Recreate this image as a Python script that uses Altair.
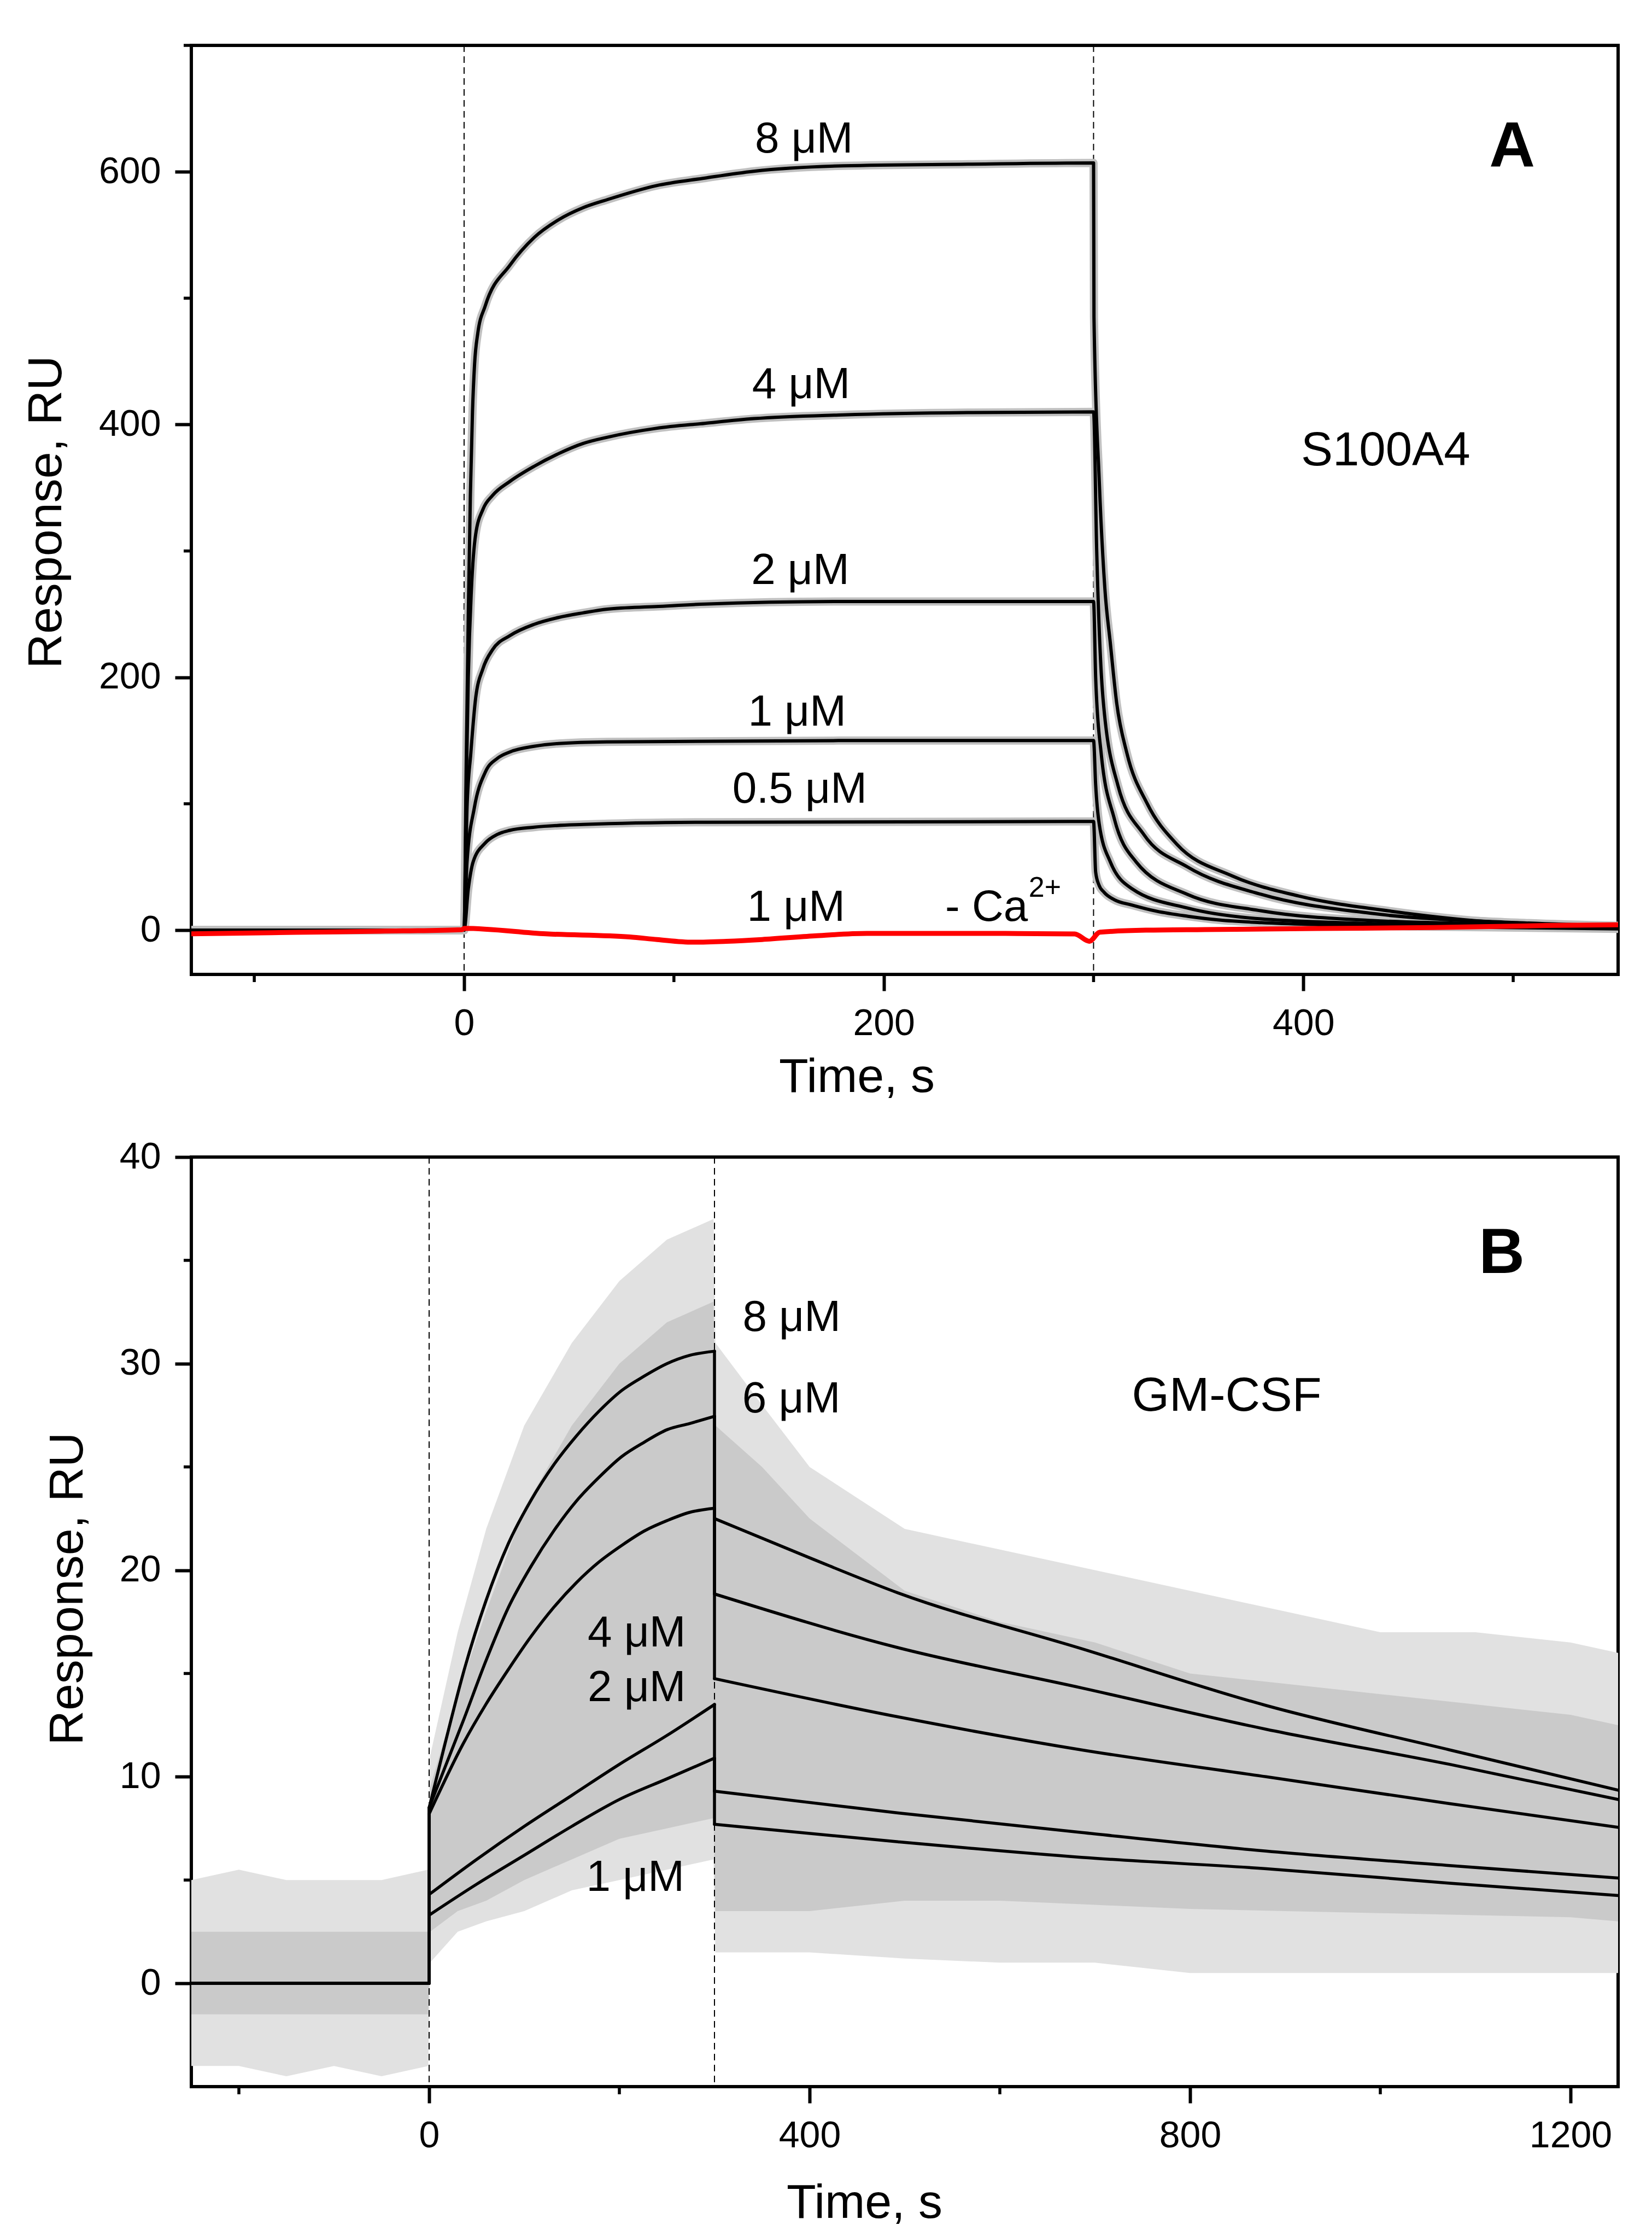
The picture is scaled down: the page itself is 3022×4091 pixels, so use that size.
import altair as alt
import pandas as pd

FONT = "Liberation Sans"

# ---------------- Panel A : S100A4 ----------------
A8_t = [-130, 0, 1, 2, 3, 4, 5, 6.5, 10.1, 21.8, 33.4, 45, 56.6, 68.3, 91.5, 114.7, 138, 180.8, 240, 300,
        300.2, 302.7, 305.4, 308, 311, 315.9, 325.6, 339.7, 366, 397.8, 441.8, 485.9, 550]
A8_v = [0, 0, 130, 250, 345, 410, 448, 472, 494, 526, 548, 562, 571.5, 578, 589, 595, 600.4, 604.7, 606, 607,
        485, 356, 270, 227, 180, 140, 100, 68, 43, 27, 15, 7, 3]

A4_t = [-130, 0, 1, 2, 3.5, 5.5, 9.0, 13.6, 21.8, 33.4, 45, 56.6, 68.3, 91.5, 114.7, 138, 180.8, 240, 300,
        301.5, 304.5, 311.6, 323.9, 344.8, 380, 433, 503, 550]
A4_v = [0, 0, 110, 200, 270, 313, 333, 344, 355, 367, 377, 385, 390, 397, 401, 404.7, 407.7, 409.5, 410,
        300, 183.5, 114.6, 75.8, 50, 28.3, 13.2, 5.9, 3.5]

A2_t = [-130, 0, 1.4, 3.2, 5.5, 9, 13.6, 21.8, 33.4, 45, 56.6, 68.3, 91.5, 114.7, 180.8, 300,
        301, 303.6, 309.8, 320.3, 344.8, 380, 433, 503, 550]
A2_v = [0, 0, 97, 140, 183.5, 207, 222, 233, 242, 247.4, 251, 254, 256, 258, 260, 260,
        200, 140.4, 88.7, 54, 28.3, 15.3, 7.6, 4.6, 3]

A1_t = [-130, 0, 1.4, 4.9, 10.1, 15.9, 21.8, 33.4, 45, 68, 180, 300,
        301, 302.7, 308, 318.5, 344.8, 380, 450, 550]
A1_v = [0, 0, 54, 97, 125, 136, 141, 145.5, 147.7, 149, 150, 150,
        115, 84, 54, 32.6, 17.5, 8.9, 4.5, 2]

A05_t = [-130, 0, 2, 4.3, 10.1, 15.9, 21.8, 33.4, 56.6, 114.7, 300,
         301, 302.5, 305, 310, 318, 330, 345, 360, 380, 450, 550]
A05_v = [0, 0, 32.6, 54, 69, 75.8, 79, 81.5, 83.6, 85.4, 86,
         46, 36, 30, 24, 20, 15, 11, 8, 6, 3, 1]

A_series = ["8 uM", "4 uM", "2 uM", "1 uM", "0.5 uM"]

# red trace: 1 uM without Ca2+
Ared_t = [-130, -80, -40, -1, 0, 39, 79, 92, 109, 125, 142, 167, 192, 225, 258, 291, 298, 303, 325, 353,
          407, 462, 516, 550]
Ared_v = [-2.9, -1.7, -0.8, 0.4, 1.5, -2.9, -5.4, -7.4, -9.5, -8.8, -7.4, -4.5, -2.6, -2.6, -2.6, -3, -8.8,
          -1.6, 0, 0.5, 1.3, 2.1, 3.7, 4.3]

A_lab_text = ["8 μM", "4 μM", "2 μM", "1 μM", "0.5 μM", "1 μM"]
A_lab_t = [162, 160.6, 160.2, 158.7, 159.9, 158.2]
A_lab_v = [615, 421, 274, 162, 101, 7.5]

# ---------------- Panel B : GM-CSF ----------------
B8_t = [-250, 0, 0, 16.7, 35.8, 59.6, 83.4, 107.3, 131, 154.9, 178.7, 202.5, 226.3, 250.1, 273.9, 300,
        300, 400, 493, 686, 880, 1073, 1250]
B8_v = [0, 0, 8.5, 11.6, 15.0, 18.5, 21.3, 23.4, 25.1, 26.5, 27.7, 28.7, 29.4, 30.0, 30.4, 30.6,
        22.5, 20.6, 18.9, 16.2, 13.45, 11.3, 9.35]

B6_t = [-250, 0, 0, 35.8, 59.6, 83.4, 107.3, 131, 154.9, 178.7, 202.5, 226.3, 250.1, 273.9, 300,
        300, 493, 686, 880, 1073, 1250]
B6_v = [0, 0, 8.5, 12.7, 15.6, 18.2, 20.2, 21.9, 23.35, 24.5, 25.5, 26.2, 26.8, 27.1, 27.45,
        18.85, 16.25, 14.3, 12.3, 10.6, 8.9]

B4_t = [-250, 0, 0, 35.8, 59.6, 83.4, 107.3, 131, 154.9, 178.7, 202.5, 226.3, 250.1, 273.9, 300,
        300, 493, 686, 880, 1073, 1250]
B4_v = [0, 0, 8.2, 11.6, 13.5, 15.2, 16.8, 18.2, 19.4, 20.4, 21.2, 21.9, 22.4, 22.8, 23.0,
        14.75, 12.9, 11.3, 10.0, 8.7, 7.55]

B2_t = [-250, 0, 0, 50, 100, 150, 200, 250, 300, 300, 493, 686, 880, 1073, 1250]
B2_v = [0, 0, 4.3, 6.0, 7.6, 9.1, 10.6, 12.0, 13.5, 9.3, 8.25, 7.3, 6.4, 5.7, 5.1]

B1_t = [-250, 0, 0, 50, 100, 150, 200, 250, 300, 300, 493, 686, 880, 1073, 1250]
B1_v = [0, 0, 3.3, 4.8, 6.2, 7.6, 8.9, 9.9, 10.9, 7.7, 6.85, 6.1, 5.55, 4.85, 4.25]

B_series = ["8 uM", "6 uM", "4 uM", "2 uM", "1 uM"]

# envelope of the noisy raw data (grey)
Bn_t = [-250, -200, -150, -100, -50, -1, 1, 30, 60, 100, 150, 200, 250, 299, 301, 350, 400, 500, 600, 700,
        800, 900, 1000, 1100, 1200, 1250]
Bn_outer_lo = [-4, -4, -4.5, -4, -4.5, -4, 1, 2.5, 3.0, 3.5, 4.5, 5.0, 5.5, 6.0, 1.5, 1.5, 1.5, 1.2, 1.0,
               1.0, 0.5, 0.5, 0.5, 0.5, 0.5, 0.5]
Bn_outer_hi = [5, 5.5, 5, 5, 5, 5.5, 11, 17, 22, 27, 31, 34, 36, 37, 31, 28, 25, 22, 21, 20, 19, 18, 17, 17,
               16.5, 16]
Bn_inner_lo = [-1.5, -1.5, -1.5, -1.5, -1.5, -1.5, 2.5, 3.5, 4.0, 5.0, 6.0, 7.0, 7.5, 8.0, 3.5, 3.5, 3.5,
               4.0, 4.0, 3.8, 3.6, 3.5, 3.4, 3.3, 3.2, 3.0]
Bn_inner_hi = [2.5, 2.5, 2.5, 2.5, 2.5, 2.5, 9.5, 14, 18, 23, 27, 30, 32, 33, 27, 25, 22.5, 19, 17.5, 16.5,
               15, 14.5, 14, 13.5, 13, 12.5]

B_lab_text = ["8 μM", "6 μM", "4 μM", "2 μM", "1 μM"]
B_lab_t = [381.1, 380.8, 218.2, 218.2, 216.8]
B_lab_v = [31.59, 27.65, 16.32, 13.65, 4.47]

# ---------------- helpers ----------------
W = 2610
HA = 1699
HB = 1700


def long_df(names, ts, vs):
    """Long table; a repeated time value starts a new piece, with a vertical piece for the jump."""
    rows = []
    for n, tt, vv in zip(names, ts, vs):
        seg = 0
        i = 0
        for k, (a, b) in enumerate(zip(tt, vv)):
            if k > 0 and a == tt[k - 1]:
                seg += 1
                rows.append({"key": f"{n}|{seg}", "t": tt[k - 1], "v": vv[k - 1], "i": 0})
                rows.append({"key": f"{n}|{seg}", "t": a, "v": b, "i": 1})
                seg += 1
                i = 0
            rows.append({"key": f"{n}|{seg}", "t": a, "v": b, "i": i})
            i += 1
    return pd.DataFrame(rows)


AX = dict(domain=False, grid=False, tickSize=30, tickWidth=6, tickColor="black",
          labelFont=FONT, labelFontSize=68, labelColor="black", labelPadding=26,
          titleFont=FONT, titleFontSize=88, titleFontWeight="normal", titleColor="black",
          format="d", labelFlush=False)


def encs(xdom, ydom, xvals, yvals, xt, yt):
    x = alt.X("t:Q", scale=alt.Scale(domain=xdom, nice=False, zero=False),
              axis=alt.Axis(values=xvals, title="Time, s", titleX=xt[0], titleY=xt[1],
                            titleAlign="center", titleBaseline="alphabetic", **AX))
    y = alt.Y("v:Q", scale=alt.Scale(domain=ydom, nice=False, zero=False),
              axis=alt.Axis(values=yvals, title="Response, RU", titleX=yt[0], titleY=yt[1],
                            titleAngle=270, titleAlign="center", titleBaseline="alphabetic", **AX))
    return x, y


def text_layer(x, y, texts, ts, vs, size, weight="normal", align="center"):
    df = pd.DataFrame({"label": texts, "t": ts, "v": vs})
    return alt.Chart(df).mark_text(font=FONT, fontSize=size, fontWeight=weight, align=align,
                                   baseline="alphabetic", color="black").encode(x=x, y=y, text="label:N")


def minor_ticks(x, y, xminor, yminor, H):
    bx = alt.Chart(pd.DataFrame({"t": xminor})).mark_rule(color="black", strokeWidth=5.5).encode(
        x=x, y=alt.value(H), y2=alt.value(H + 14))
    ly = alt.Chart(pd.DataFrame({"v": yminor})).mark_rule(color="black", strokeWidth=5.5).encode(
        y=y, x=alt.value(0), x2=alt.value(-14))
    return bx, ly


def lines(df, x, y, color, width):
    return alt.Chart(df).mark_line(color=color, strokeWidth=width, clip=True, strokeJoin="round",
                                   strokeCap="round", interpolate="monotone").encode(
        x=x, y=y, detail="key:N", order="i:Q")


# ---------------- Panel A chart ----------------
xA, yA = encs([-130, 550], [-35, 700], [0, 200, 400], [0, 200, 400, 600], (1217, 214), (-239, 853))
dfA = long_df(A_series, [A8_t, A4_t, A2_t, A1_t, A05_t], [A8_v, A4_v, A2_v, A1_v, A05_v])
dfRed = long_df(["red"], [Ared_t], [Ared_v])

dashA = alt.Chart(pd.DataFrame({"t": [0, 300]})).mark_rule(color="black", strokeWidth=2,
                                                             strokeDash=[12, 8]).encode(x=xA)
greyA = lines(dfA, xA, yA, "#c0c0c0", 15)
fitA = lines(dfA, xA, yA, "black", 6)
redA = lines(dfRed, xA, yA, "#ff0000", 9)
labA = text_layer(xA, yA, A_lab_text, A_lab_t, A_lab_v, 80)
caA = text_layer(xA, yA, ["- Ca"], [229.3], [7.6], 80, align="left")
supA = text_layer(xA, yA, ["2+"], [269.1], [26.6], 52, align="left")
nameA = text_layer(xA, yA, ["S100A4"], [439.2], [367.6], 87)
letA = text_layer(xA, yA, ["A"], [499.5], [603.8], 116, weight="bold")
mbA, mlA = minor_ticks(xA, yA, [-100, 100, 300, 500], [100, 300, 500, 700], HA)

chartA = alt.layer(dashA, greyA, fitA, redA, labA, caA, supA, nameA, letA, mbA, mlA).properties(
    width=W, height=HA)

# ---------------- Panel B chart ----------------
xB, yB = encs([-250, 1250], [-5, 40], [0, 400, 800, 1200], [0, 10, 20, 30, 40], (1231, 239), (-200, 789))
dfB = long_df(B_series, [B8_t, B6_t, B4_t, B2_t, B1_t], [B8_v, B6_v, B4_v, B2_v, B1_v])
dfOuter = pd.DataFrame({"t": Bn_t, "v": Bn_outer_lo, "v2": Bn_outer_hi})
dfInner = pd.DataFrame({"t": Bn_t, "v": Bn_inner_lo, "v2": Bn_inner_hi})

outerB = alt.Chart(dfOuter).mark_area(color="#e1e1e1", clip=True).encode(x=xB, y=yB, y2="v2:Q")
innerB = alt.Chart(dfInner).mark_area(color="#cacaca", clip=True).encode(x=xB, y=yB, y2="v2:Q")
dashB = alt.Chart(pd.DataFrame({"t": [0, 300]})).mark_rule(color="black", strokeWidth=2,
                                                             strokeDash=[12, 8]).encode(x=xB)
fitB = lines(dfB, xB, yB, "black", 5.5)
labB = text_layer(xB, yB, B_lab_text, B_lab_t, B_lab_v, 80)
nameB = text_layer(xB, yB, ["GM-CSF"], [838.5], [27.71], 88)
letB = text_layer(xB, yB, ["B"], [1127.6], [34.4], 116, weight="bold")
mbB, mlB = minor_ticks(xB, yB, [-200, 200, 600, 1000], [5, 15, 25, 35], HB)

chartB = alt.layer(outerB, innerB, dashB, fitB, labB, nameB, letB, mbB, mlB).properties(width=W, height=HB)

chart = alt.vconcat(chartA, chartB, spacing=334, bounds="flush").properties(
    padding={"left": 30, "top": 69, "right": 10, "bottom": 10},
    background="white",
).configure_view(stroke="black", strokeWidth=6)

chart.save("out.html", embed_options={"renderer": "svg", "actions": False})
